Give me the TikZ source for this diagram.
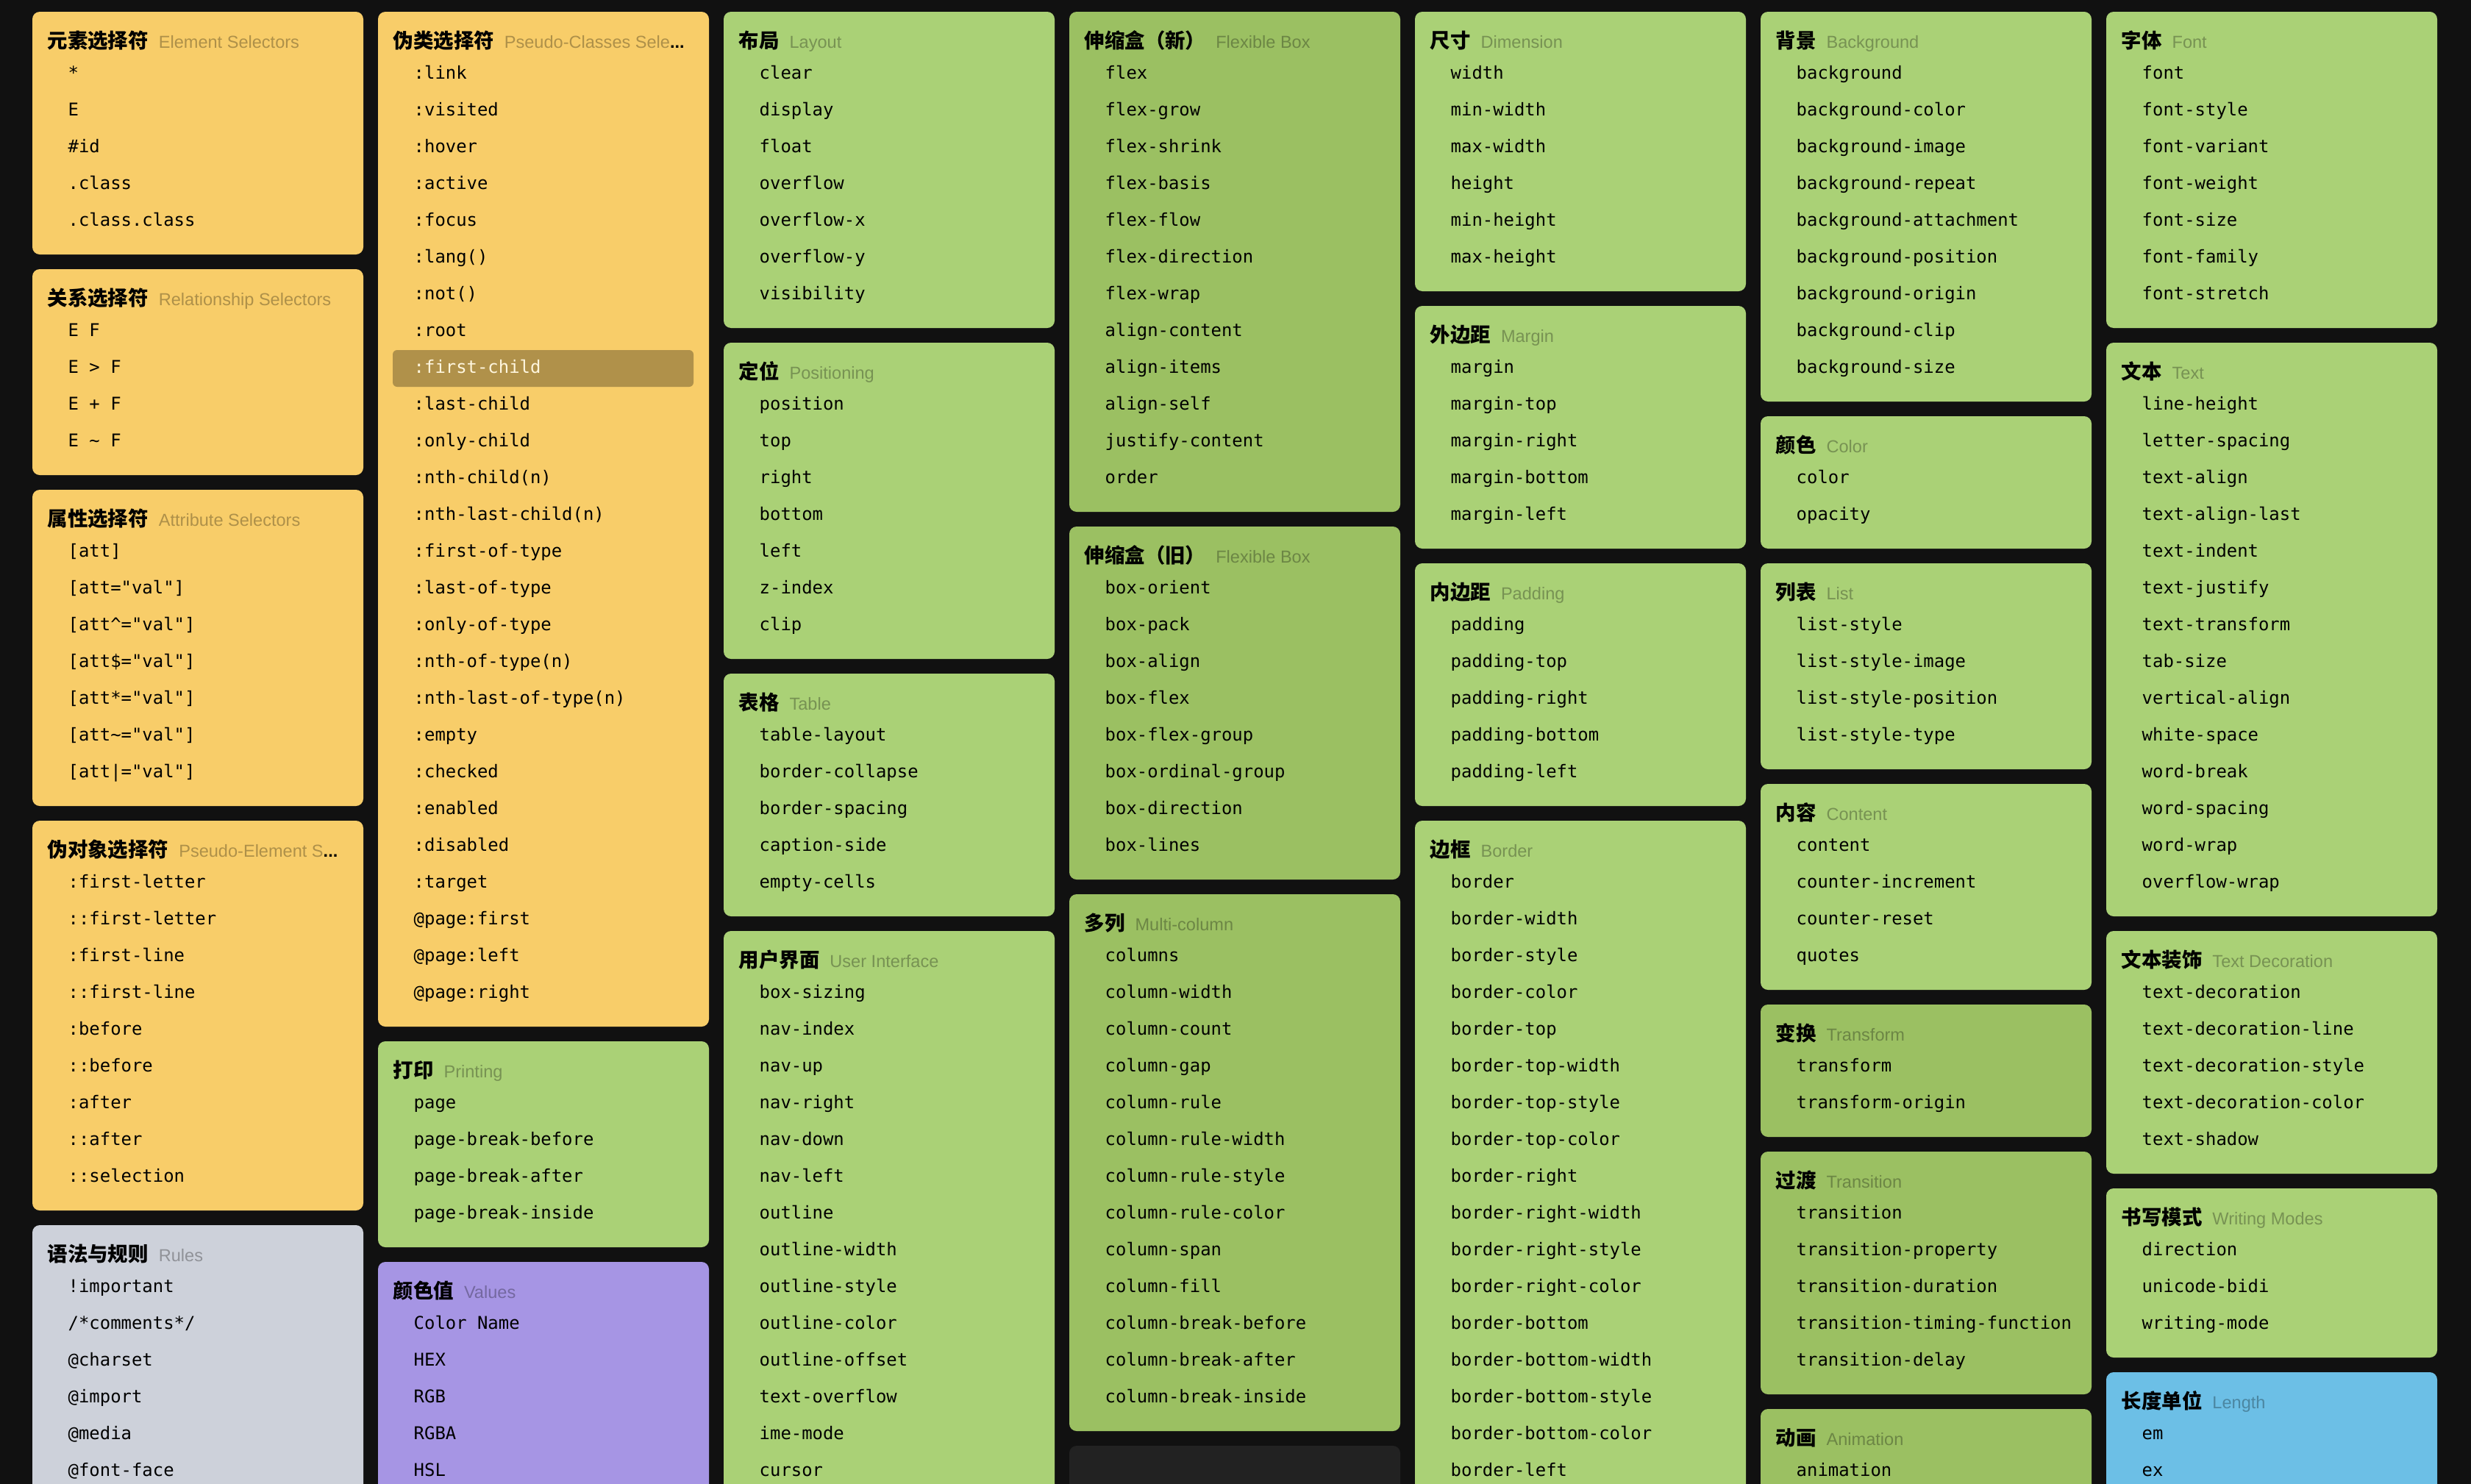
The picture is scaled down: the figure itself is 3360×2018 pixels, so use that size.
\documentclass[tikz,border=0pt]{standalone}
\usepackage{fontspec}
\setmainfont{Liberation Sans}
\newfontfamily\zhfont{Noto Sans CJK SC}
\newfontfamily\enfont{Liberation Sans}
\newfontfamily\codefont{DejaVu Sans Mono}

\definecolor{pagebg}{HTML}{111111}
\definecolor{selyellow}{HTML}{F8CD69}
\definecolor{propgreen}{HTML}{AAD176}
\definecolor{flexgreen}{HTML}{9BC062}
\definecolor{rulegrey}{HTML}{CDD1DA}
\definecolor{valpurple}{HTML}{A695E4}
\definecolor{unitblue}{HTML}{6CBFE6}
\definecolor{darkcard}{HTML}{222222}
\definecolor{hlgold}{HTML}{B0914A}
\definecolor{hltext}{HTML}{FFF6DE}

\newcommand\hlitem[1]{\textcolor{hltext}{#1}}
\newcommand\ellip{\textcolor{black}{\bfseries...}}

% name/x/top/rows/colour/title/subtitle/items
\def\cardlist{%
  el/44/16/5/selyellow/元素选择符/Element Selectors/{*,E,\#id,.class,.class.class},
  rel/44/366/4/selyellow/关系选择符/Relationship Selectors/{E F,E > F,E + F,E \textasciitilde{} F},
  att/44/666/7/selyellow/属性选择符/Attribute Selectors/{[att],[att="val"],[att\textasciicircum="val"],[att\$="val"],[att*="val"],[att\textasciitilde="val"],[att|="val"]},
  pe/44/1116/9/selyellow/伪对象选择符/Pseudo-Element S\ellip/{:first-letter,::first-letter,:first-line,::first-line,:before,::before,:after,::after,::selection},
  rules/44/1666/12/rulegrey/语法与规则/Rules/{!important,/*comments*/,@charset,@import,@media,@font-face},
  pc/514/16/26/selyellow/伪类选择符/Pseudo-Classes Sele\ellip/{:link,:visited,:hover,:active,:focus,:lang(),:not(),:root,\hlitem{:first-child},:last-child,:only-child,:nth-child(n),:nth-last-child(n),:first-of-type,:last-of-type,:only-of-type,:nth-of-type(n),:nth-last-of-type(n),:empty,:checked,:enabled,:disabled,:target,@page:first,@page:left,@page:right},
  print/514/1416/4/propgreen/打印/Printing/{page,page-break-before,page-break-after,page-break-inside},
  val/514/1716/12/valpurple/颜色值/Values/{Color Name,HEX,RGB,RGBA,HSL},
  layout/984/16/7/propgreen/布局/Layout/{clear,display,float,overflow,overflow-x,overflow-y,visibility},
  pos/984/466/7/propgreen/定位/Positioning/{position,top,right,bottom,left,z-index,clip},
  table/984/916/5/propgreen/表格/Table/{table-layout,border-collapse,border-spacing,caption-side,empty-cells},
  ui/984/1266/20/propgreen/用户界面/User Interface/{box-sizing,nav-index,nav-up,nav-right,nav-down,nav-left,outline,outline-width,outline-style,outline-color,outline-offset,text-overflow,ime-mode,cursor},
  flexnew/1454/16/12/flexgreen/伸缩盒（新）/Flexible Box/{flex,flex-grow,flex-shrink,flex-basis,flex-flow,flex-direction,flex-wrap,align-content,align-items,align-self,justify-content,order},
  flexold/1454/716/8/flexgreen/伸缩盒（旧）/Flexible Box/{box-orient,box-pack,box-align,box-flex,box-flex-group,box-ordinal-group,box-direction,box-lines},
  cols/1454/1216/13/flexgreen/多列/Multi-column/{columns,column-width,column-count,column-gap,column-rule,column-rule-width,column-rule-style,column-rule-color,column-span,column-fill,column-break-before,column-break-after,column-break-inside},
  dim/1924/16/6/propgreen/尺寸/Dimension/{width,min-width,max-width,height,min-height,max-height},
  margin/1924/416/5/propgreen/外边距/Margin/{margin,margin-top,margin-right,margin-bottom,margin-left},
  pad/1924/766/5/propgreen/内边距/Padding/{padding,padding-top,padding-right,padding-bottom,padding-left},
  border/1924/1116/20/propgreen/边框/Border/{border,border-width,border-style,border-color,border-top,border-top-width,border-top-style,border-top-color,border-right,border-right-width,border-right-style,border-right-color,border-bottom,border-bottom-width,border-bottom-style,border-bottom-color,border-left},
  bg/2394/16/9/propgreen/背景/Background/{background,background-color,background-image,background-repeat,background-attachment,background-position,background-origin,background-clip,background-size},
  color/2394/566/2/propgreen/颜色/Color/{color,opacity},
  list/2394/766/4/propgreen/列表/List/{list-style,list-style-image,list-style-position,list-style-type},
  content/2394/1066/4/propgreen/内容/Content/{content,counter-increment,counter-reset,quotes},
  tf/2394/1366/2/flexgreen/变换/Transform/{transform,transform-origin},
  trans/2394/1566/5/flexgreen/过渡/Transition/{transition,transition-property,transition-duration,transition-timing-function,transition-delay},
  anim/2394/1916/6/flexgreen/动画/Animation/{animation},
  font/2864/16/7/propgreen/字体/Font/{font,font-style,font-variant,font-weight,font-size,font-family,font-stretch},
  text/2864/466/14/propgreen/文本/Text/{line-height,letter-spacing,text-align,text-align-last,text-indent,text-justify,text-transform,tab-size,vertical-align,white-space,word-break,word-spacing,word-wrap,overflow-wrap},
  deco/2864/1266/5/propgreen/文本装饰/Text Decoration/{text-decoration,text-decoration-line,text-decoration-style,text-decoration-color,text-shadow},
  wm/2864/1616/3/propgreen/书写模式/Writing Modes/{direction,unicode-bidi,writing-mode},
  len/2864/1866/6/unitblue/长度单位/Length/{em,ex}%
}

\begin{document}
\begin{tikzpicture}[x=0.01cm,y=-0.01cm]
\tikzset{
  card/.style      = {rounded corners=0.1cm},
  cardtitle/.style = {anchor=base west, inner sep=0pt},
  carditem/.style  = {anchor=base west, inner sep=0pt,
                      font=\codefont\fontsize{6.8pt}{8pt}\selectfont},
  marker/.style    = {fill=hlgold, rounded corners=0.06cm}
}
\useasboundingbox (0,0) rectangle (3360,2018);
\fill[pagebg] (0,0) rectangle (3360,2018);
\clip (0,0) rectangle (3360,2018);

% card backgrounds first
\foreach \nm/\cx/\cy/\cn/\cc/\zh/\en/\items in \cardlist
  \fill[card, \cc] (\cx,\cy) rectangle ++(450,80+50*\cn);
\fill[card, darkcard] (1454,1966) rectangle (1904,2120);
\fill[marker] (534,476) rectangle (943,526);

% titles and property names
\foreach \nm/\cx/\cy/\cn/\cc/\zh/\en/\items in \cardlist {
  \node[cardtitle] (\nm-title) at (\cx+20,\cy+49)
    {{\zhfont\bfseries\fontsize{7.8pt}{9pt}\selectfont \zh}\hspace{0.14cm}%
     {\enfont\fontsize{6.7pt}{8pt}\selectfont\color{\cc!70!black}\en}};
  \foreach \it [count=\i] in \items
    \node[carditem] (\nm-\i) at (\cx+48,\cy+41+50*\i) {\it};
}
\end{tikzpicture}
\end{document}
